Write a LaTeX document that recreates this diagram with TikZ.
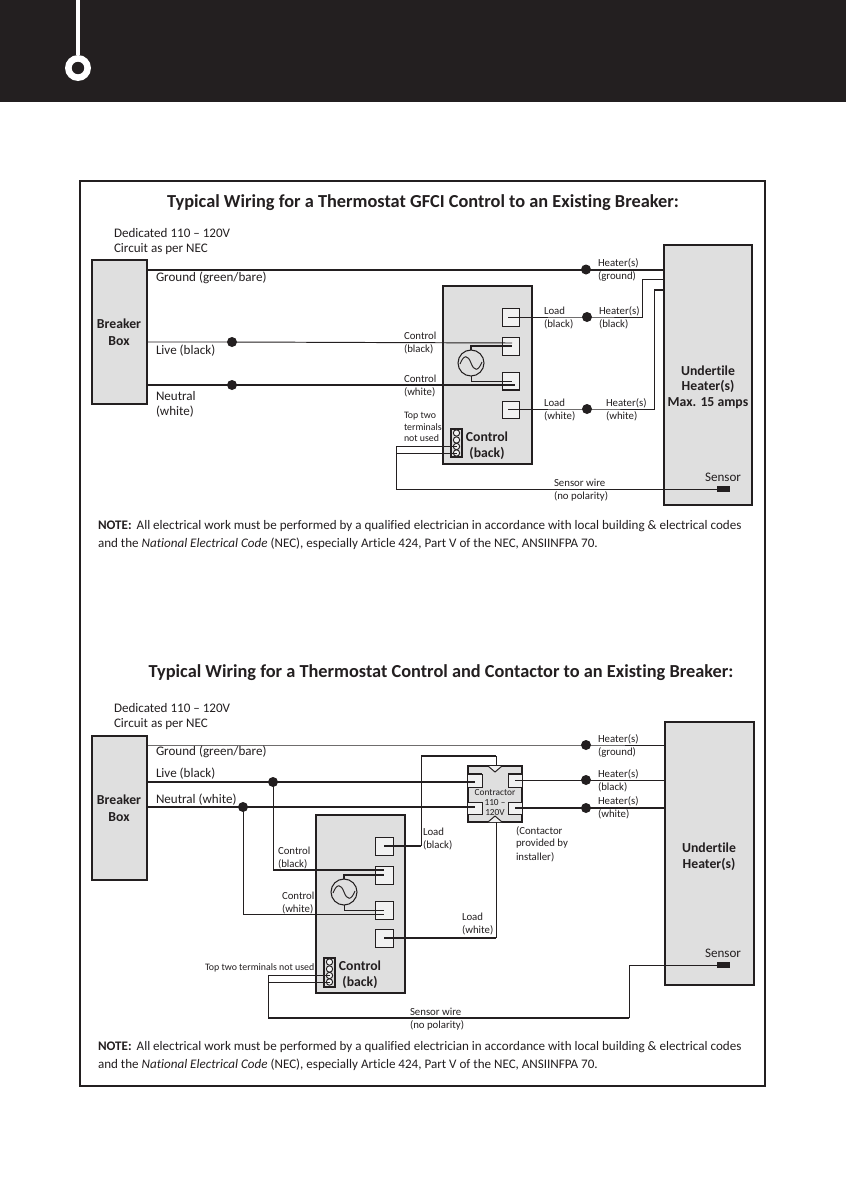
\documentclass[tikz,border=0pt]{standalone}
\usepackage{fontspec}
\setmainfont{Carlito}[Ligatures=NoCommon]
\definecolor{ink}{HTML}{231F20}
\definecolor{panel}{HTML}{DFDFDF}
\definecolor{termfill}{HTML}{F1F1F1}
\newcommand{\rectnode}[6]{%
  \pgfmathsetmacro\rw{(#5-#3)*0.75}\pgfmathsetmacro\rh{(#6-#4)*0.75}%
  \node[#1,minimum width=\rw pt,minimum height=\rh pt] (#2) at ({(#3+#5)/2},{(#4+#6)/2}) {};}
\tikzset{
  panelbox/.style={draw=ink,fill=panel,line width=0.8pt,inner sep=0,outer sep=0},
  termbox/.style={draw=ink,fill=termfill,line width=0.7pt,inner sep=0,outer sep=0},
  blockbox/.style={draw=ink,fill=panel,line width=0.9pt,inner sep=0,outer sep=0},
  sensorbox/.style={fill=ink,inner sep=0,outer sep=0},
  junction/.style={circle,fill=ink,inner sep=0,outer sep=0,minimum size=7.5pt},
  source/.style={circle,draw=ink,fill=panel,line width=0.8pt,inner sep=0,outer sep=0,minimum size=19.5pt},
  pin/.style={circle,draw=ink,fill=termfill,line width=0.7pt,inner sep=0,outer sep=0,minimum size=4.8pt},
  wire/.style={draw=ink,line width=0.72pt},
  heavy/.style={draw=ink,line width=1.5pt},
  mid/.style={draw=ink,line width=1.1pt},
  txt/.style={text=ink,inner sep=0,outer sep=0,anchor=west,font=\fontsize{9.8}{12}\selectfont},
  sm/.style={text=ink,inner sep=0,outer sep=0,anchor=west,font=\fontsize{8.1}{10}\selectfont},
  tiny/.style={text=ink,inner sep=0,outer sep=0,font=\fontsize{7.4}{9}\selectfont},
  micro/.style={text=ink,inner sep=0,outer sep=0,font=\fontsize{7}{9}\selectfont},
  bold/.style={text=ink,inner sep=0,outer sep=0,font=\fontsize{10.3}{12}\selectfont\bfseries},
  ttl/.style={text=ink,inner sep=0,outer sep=0,font=\fontsize{13.75}{15}\selectfont\bfseries},
  note/.style={text=ink,inner sep=0,outer sep=0,anchor=west,font=\fontsize{9.8}{11}\selectfont},
}
\begin{document}
\begin{tikzpicture}[x=0.75pt,y=-0.75pt]
\useasboundingbox (0,0) rectangle (846,1192);
\fill[white] (0,0) rectangle (846,1192);
% header
\fill[ink] (0,0) rectangle (846,102);
\coordinate (hTop) at (78,0);
\node[circle,draw=white,line width=4.9pt,fill=ink,minimum size=14.5pt,inner sep=0] (hRing) at (78,68) {};
\draw[white,line width=2.4pt] (hTop) -- (hRing.north);
% frame
\draw[ink,line width=1.6pt] (80,181) rectangle (765,1086);

%%%%%%%%%%%%%% upper diagram
\node[ttl] (t1) at (423,203) {Typical Wiring for a Thermostat GFCI Control to an Existing Breaker:};
\node[txt] (ded1) at (114,233) {Dedicated 110 – 120V};
\node[txt] (cir1) at (114,249) {Circuit as per NEC};
\rectnode{panelbox}{brkA}{92}{260}{147}{404}
\rectnode{panelbox}{htrA}{664}{245}{752}{505}
\rectnode{panelbox}{ctlA}{443}{286}{532}{464}
\rectnode{termbox}{aT1}{502}{308}{519}{326}
\rectnode{termbox}{aT2}{502}{337}{519}{355}
\rectnode{termbox}{aT3}{502}{372}{519}{390}
\rectnode{termbox}{aT4}{502}{401}{519}{418}
\node[source] (aSrc) at (471,363) {};
\draw[ink,line width=0.7pt] (460,364) .. controls (464,354) and (468,355) .. (471,363) .. controls (474,371) and (478,372) .. (482,362);
\node[junction] (aG) at (586,269.5) {};
\node[junction] (aL) at (232,342) {};
\node[junction] (aN) at (232,385) {};
\node[junction] (aB) at (587,317) {};
\node[junction] (aW) at (587,409) {};
% wires
\draw[heavy] (brkA.east |- aG) -- (aG.center) -- (htrA.west |- aG);
\coordinate (aC2) at (512,343);
\draw[wire] (brkA.east |- aL) -- (aL.center) -- (aC2);
\coordinate (aC3) at (515,385);
\draw[heavy] (brkA.east |- aN) -- (aN.center) -- (aC3);
\coordinate (aLB) at (508,317);
\coordinate (aLW) at (508,409);
\coordinate (aHb) at (664,279);
\coordinate (aHw) at (664,290);
\draw[wire] (aLB) -- (aB.center) -| (642,279) -- (aHb);
\draw[wire] (aLW) -- (aW.center) -| (654,290);
\draw[heavy] (654,290) -- (aHw);
\draw[mid] (aSrc.north) |- (512,346);
\draw[wire] (aSrc.south) |- (512,381);
\draw[heavy] (502,390) -- (519,390);
% sensor
\rectnode{blockbox}{aBlk}{451}{429}{462}{457}
\node[pin] (aP1) at (456.5,433) {};
\node[pin] (aP2) at (456.5,440) {};
\node[pin] (aP3) at (456.5,446.5) {};
\node[pin] (aP4) at (456.5,453) {};
\rectnode{sensorbox}{aSen}{717}{486}{730}{492}
\draw[wire] (aP3.center) -- (396,446.5) -- (396,489) -- (aSen.west);
\draw[wire] (aP4.center) -- (396,453);
% texts
\node[bold,align=center] (aBrkT) at (119,332) {Breaker\\[1pt]Box};
\node[txt] at (156,278) {Ground (green/bare)};
\node[txt] at (156,351) {Live (black)};
\node[txt] at (156,396) {Neutral};
\node[txt] at (156,412) {(white)};
\node[sm] at (598,263) {Heater(s)};
\node[sm] at (598,276) {(ground)};
\node[sm] at (544,311) {Load};
\node[sm] at (544,324) {(black)};
\node[sm] at (599,311) {Heater(s)};
\node[sm] at (599,324) {(black)};
\node[sm] at (404,336) {Control};
\node[sm] at (404,349) {(black)};
\node[sm] at (404,379) {Control};
\node[sm] at (404,392) {(white)};
\node[sm] at (544,403) {Load};
\node[sm] at (544,416) {(white)};
\node[sm] at (606,403) {Heater(s)};
\node[sm] at (606,416) {(white)};
\node[tiny,anchor=west] at (404,416) {Top two};
\node[tiny,anchor=west] at (404,427) {terminals};
\node[tiny,anchor=west] at (404,438) {not used};
\node[bold] at (487,437) {Control};
\node[bold] at (487,453) {(back)};
\node[bold] at (708,371) {Undertile};
\node[bold] at (708,386.5) {Heater(s)};
\node[bold] at (708,403) {Max. 15 amps};
\node[txt,anchor=center] at (723,477) {Sensor};
\node[sm] at (554,483) {Sensor wire};
\node[sm] at (554,496) {(no polarity)};
\node[note] at (98,526) {\textbf{NOTE:}\, All electrical work must be performed by a qualified electrician in accordance with local building \& electrical codes};
\node[note] at (98,544) {and the \textit{National Electrical Code} (NEC), especially Article 424, Part V of the NEC, ANSIINFPA 70.};

%%%%%%%%%%%%%% lower diagram
\node[ttl] (t2) at (441,673) {Typical Wiring for a Thermostat Control and Contactor to an Existing Breaker:};
\node[txt] at (114,708) {Dedicated 110 – 120V};
\node[txt] at (114,724) {Circuit as per NEC};
\rectnode{panelbox}{brkB}{92}{736}{147}{880}
\rectnode{panelbox}{htrB}{665}{722}{754}{985}
\rectnode{panelbox}{ctlB}{316}{815}{405}{993}
\rectnode{termbox}{bT1}{375}{837}{393}{855}
\rectnode{termbox}{bT2}{375}{866}{393}{884}
\rectnode{termbox}{bT3}{375}{901}{393}{919}
\rectnode{termbox}{bT4}{375}{929}{393}{947}
\node[source] (bSrc) at (344,892) {};
\draw[ink,line width=0.7pt] (333,893) .. controls (337,883) and (341,884) .. (344,892) .. controls (347,900) and (351,901) .. (355,891);
% contactor
\rectnode{panelbox}{con}{468}{766}{522}{822}
\fill[termfill] (468,774) rectangle (482,787);
\fill[termfill] (508,774) rectangle (522,787);
\fill[termfill] (468,802) rectangle (482,814);
\fill[termfill] (508,802) rectangle (522,814);
\draw[mid] (468,774) -- (482,774);
\draw[wire] (482,774) -- (482,787) -- (468,787);
\draw[mid] (522,774) -- (508,774);
\draw[wire] (508,774) -- (508,787) -- (522,787);
\draw[wire] (468,802) -- (482,802) -- (482,814) -- (468,814);
\draw[wire] (522,802) -- (508,802) -- (508,814) -- (522,814);
\fill[termfill] (488,766) -- (495,772) -- (502,766) -- cycle;
\fill[termfill] (488,822) -- (495,816) -- (502,822) -- cycle;
\draw[wire] (488,766) -- (495,772) -- (502,766);
\draw[wire] (488,822) -- (495,816) -- (502,822);
\coordinate (cTop) at (496,766);
\coordinate (cBot) at (496,822);
\coordinate (cLT) at (475,782);
\coordinate (cLB) at (475,807);
\coordinate (cRT) at (515,780);
\coordinate (cRB) at (515,808);
\node[junction] (bG) at (586,745) {};
\node[junction] (bRt) at (586,780) {};
\node[junction] (bRb) at (586,808) {};
\node[junction] (bL) at (273,782) {};
\node[junction] (bN) at (243,807) {};
\draw[wire] (brkB.east |- bG) -- (bG.center) -- (htrB.west |- bG);
\draw[wire] (cRT) -- (bRt.center) -- (htrB.west |- bRt);
\draw[heavy] (cRB) -- (bRb.center) -- (htrB.west |- bRb);
\draw[heavy] (brkB.east |- bL) -- (bL.center) -- (cLT);
\draw[heavy] (brkB.east |- bN) -- (bN.center) -- (cLB);
\coordinate (bLk) at (273,870);
\draw[wire] (bL.center) -- (bLk);
\draw[heavy] (bLk) -- (384,870);
\draw[wire] (bN.center) |- (384,914);
\draw[mid] (bSrc.north) |- (384,875);
\draw[wire] (bSrc.south) |- (384,910);
\coordinate (bLa) at (421,846);
\coordinate (bLb) at (421,756);
\coordinate (bLc) at (496,756);
\coordinate (bLd) at (496,938);
\draw[heavy] (384,846) -- (bLa);
\draw[wire] (bLa) -- (bLb);
\draw[heavy] (bLb) -- (bLc);
\draw[wire] (bLc) -- (cTop);
\draw[heavy] (384,938) -- (bLd);
\draw[wire] (bLd) -- (cBot);
% sensor
\rectnode{blockbox}{bBlk}{324}{958}{335}{987}
\node[pin] (bP1) at (329.5,962) {};
\node[pin] (bP2) at (329.5,969) {};
\node[pin] (bP3) at (329.5,975.5) {};
\node[pin] (bP4) at (329.5,982) {};
\rectnode{sensorbox}{bSen}{717}{962}{730}{968}
\draw[wire] (bP3.center) -- (268,975.5) -- (268,1018);
\draw[mid] (268,1018) -- (629,1018);
\draw[wire] (629,1018) -- (629,965) -- (bSen.west);
\draw[wire] (bP4.center) -- (268,982);
% texts
\node[bold,align=center] at (119,808) {Breaker\\[1pt]Box};
\node[txt] at (156,752) {Ground (green/bare)};
\node[txt] at (156,774) {Live (black)};
\node[txt] at (156,800) {Neutral (white)};
\node[sm] at (598,739) {Heater(s)};
\node[sm] at (598,752) {(ground)};
\node[sm] at (598,774) {Heater(s)};
\node[sm] at (598,787) {(black)};
\node[sm] at (598,801) {Heater(s)};
\node[sm] at (598,814) {(white)};
\node[sm] at (423,832) {Load};
\node[sm] at (423,845) {(black)};
\node[sm] at (462,917) {Load};
\node[sm] at (462,930) {(white)};
\node[sm] at (278,851) {Control};
\node[sm] at (278,864) {(black)};
\node[sm] at (282,896) {Control};
\node[sm] at (282,909) {(white)};
\node[sm] at (516,831) {(Contactor};
\node[sm] at (516,844) {provided by};
\node[sm] at (516,857) {installer)};
\node[micro] at (495,792) {Contractor};
\node[micro] at (495,802) {110 –};
\node[micro] at (495,812) {120V};
\node[tiny,anchor=west] at (205,968) {Top two terminals not used};
\node[bold] at (360,966) {Control};
\node[bold] at (360,982) {(back)};
\node[bold] at (709,848) {Undertile};
\node[bold] at (709,864) {Heater(s)};
\node[txt,anchor=center] at (723,953) {Sensor};
\node[sm] at (410,1012) {Sensor wire};
\node[sm] at (410,1025) {(no polarity)};
\node[note] at (98,1047) {\textbf{NOTE:}\, All electrical work must be performed by a qualified electrician in accordance with local building \& electrical codes};
\node[note] at (98,1065) {and the \textit{National Electrical Code} (NEC), especially Article 424, Part V of the NEC, ANSIINFPA 70.};
\end{tikzpicture}
\end{document}
